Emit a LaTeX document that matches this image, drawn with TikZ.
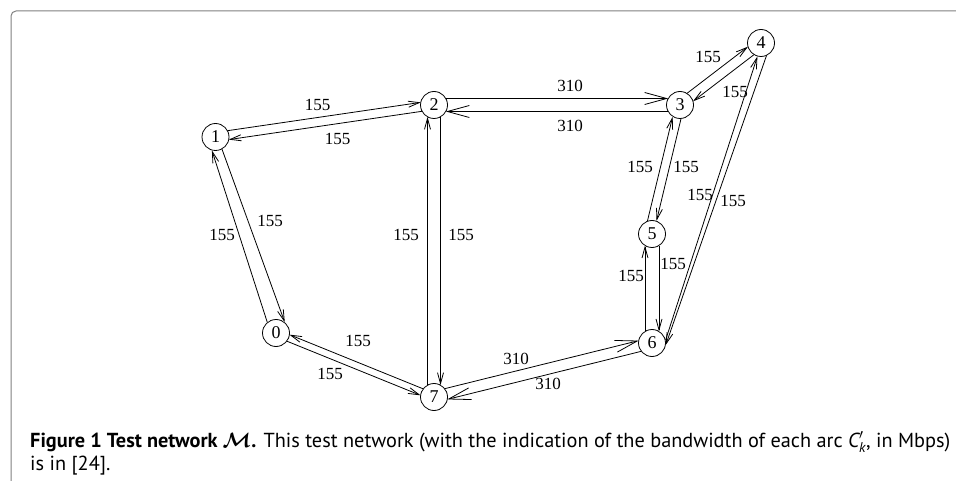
\documentclass[tikz,border=0pt]{standalone}
\usepackage{amsmath}
\usepackage{fontspec}
\setmainfont{Liberation Serif}
\newfontfamily\capfont{PT Sans}
\usetikzlibrary{calc,arrows.meta}
\tikzset{
  vtx/.style={circle,draw,line width=0.8pt,minimum size=27pt,inner sep=0pt,font=\fontsize{18}{18}\selectfont},
  lbl/.style={inner sep=0pt,font=\fontsize{17}{17}\selectfont},
  small/.style={-{Straight Barb[length=11pt,width=6pt]}},
  big/.style={-{Straight Barb[length=22pt,width=12pt]}},
  edgeline/.style={line width=0.8pt},
  frame/.style={draw=gray,line width=1pt,rounded corners=5pt},
  captxt/.style={anchor=base west,inner sep=0pt,font=\capfont\fontsize{20.3}{20.3}\selectfont}
}
% #1 from, #2 to, #3 half spacing (left of travel), #4 arrow style
\newcommand\netarc[4]{%
  \pgfmathsetmacro\shrt{sqrt(13.5*13.5-(#3)*(#3))}%
  \draw[edgeline,#4,shorten <=\shrt pt,shorten >=\shrt pt]
    ($(#1.center)!#3pt!90:(#2.center)$) -- ($(#2.center)!#3pt!-90:(#1.center)$);
}
\begin{document}
\begin{tikzpicture}[x=1pt,y=-1pt]
\useasboundingbox (0,0) rectangle (956,481);
\draw[frame] (957,11) -- (11,11) -- (11,482);

\node[vtx] (n1) at (215.5,137) {1};
\node[vtx] (n2) at (434,105) {2};
\node[vtx] (n3) at (680,105) {3};
\node[vtx] (n4) at (761,43) {4};
\node[vtx] (n5) at (652,234) {5};
\node[vtx] (n6) at (652,343) {6};
\node[vtx] (n7) at (434,397) {7};
\node[vtx] (n0) at (276,333) {0};

\netarc{n1}{n2}{4.5}{small}
\netarc{n2}{n1}{4.5}{small}
\netarc{n2}{n3}{6.5}{big}
\netarc{n3}{n2}{6.5}{big}
\netarc{n3}{n4}{5}{small}
\netarc{n4}{n3}{5}{small}
\draw[edgeline,small] (n5.109) -- (n3.-122);
\draw[edgeline,small] (n3.-86) -- (n5.71);
\draw[edgeline,small] (n6.12) -- (n4.-105);
\draw[edgeline,small] (n4.-67) -- (n6.-8);
\netarc{n6}{n5}{7}{small}
\netarc{n5}{n6}{7}{small}
\draw[edgeline,small] (n0.129) -- (n1.-105);
\draw[edgeline,small] (n1.-62) -- (n0.51);
\netarc{n7}{n2}{6.5}{small}
\netarc{n2}{n7}{6.5}{small}
\netarc{n0}{n7}{-3.5}{small}
\netarc{n7}{n0}{-3.5}{small}
\netarc{n7}{n6}{5.5}{big}
\netarc{n6}{n7}{5.5}{big}

\node[lbl] (a12) at (317.5,105) {155};
\node[lbl] (a21) at (337.5,139) {155};
\node[lbl] (a23) at (570,86) {310};
\node[lbl] (a32) at (570,126) {310};
\node[lbl] (a34) at (708,57) {155};
\node[lbl] (a43) at (735,92) {155};
\node[lbl] (a53) at (640,167) {155};
\node[lbl] (a35) at (686,167) {155};
\node[lbl] (a64) at (700,195) {155};
\node[lbl] (a46) at (733,201) {155};
\node[lbl] (a65) at (631,276) {155};
\node[lbl] (a56) at (673,264) {155};
\node[lbl] (a01) at (222,235) {155};
\node[lbl] (a10) at (270,221) {155};
\node[lbl] (a72) at (406,235) {155};
\node[lbl] (a27) at (461,235) {155};
\node[lbl] (a70) at (358,341) {155};
\node[lbl] (a07) at (330,374) {155};
\node[lbl] (a76) at (516,359) {310};
\node[lbl] (a67) at (548,384) {310};

\node[captxt] (cap1) at (30,447)
  {{\bfseries Figure 1 Test network $\boldsymbol{\mathcal{M}}$.} This test network (with the indication of the bandwidth of each arc {\itshape C}$'_{\textit{k}}$, in Mbps)};
\node[captxt] (cap2) at (30,470) {is in [24].};
\end{tikzpicture}
\end{document}
